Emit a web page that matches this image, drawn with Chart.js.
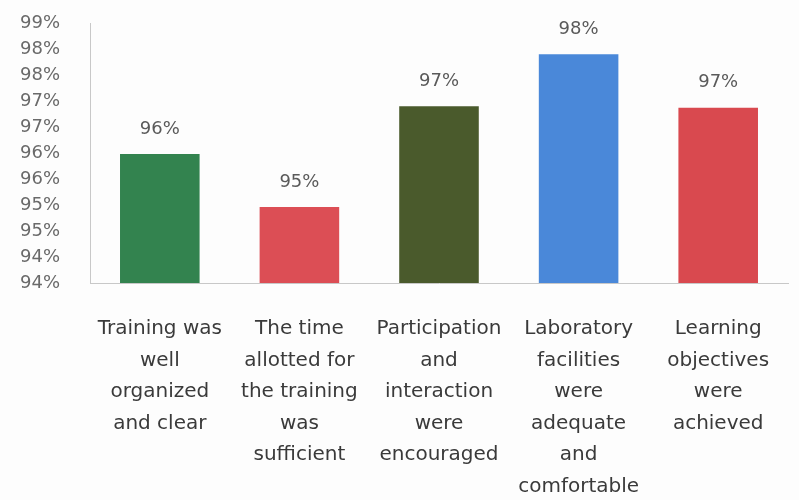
<!DOCTYPE html>
<html>
<head>
<meta charset="utf-8">
<script src="https://cdn.jsdelivr.net/npm/chart.js@4/dist/chart.umd.min.js"></script>
<style>
  html, body { margin: 0; padding: 0; background: #fdfdfd; }
  #wrap { width: 799px; height: 500px; position: relative; }
</style>
</head>
<body>
<div id="wrap"><canvas id="trainingChart"></canvas></div>
<script>
// categories, one entry per bar (lines as shown under the axis)
var categories = [
  ['Training was', 'well', 'organized', 'and clear'],
  ['The time', 'allotted for', 'the training', 'was', 'sufficient'],
  ['Participation', 'and', 'interaction', 'were', 'encouraged'],
  ['Laboratory', 'facilities', 'were', 'adequate', 'and', 'comfortable'],
  ['Learning', 'objectives', 'were', 'achieved']
];
var values = [95.98, 94.96, 96.9, 97.9, 96.87];
var barColors = ['#33834f', '#dc4e55', '#4a5a2c', '#4a88d9', '#d9494f'];
var valueLabels = ['96%', '95%', '97%', '98%', '97%'];
var tickLabels = ['94%', '94%', '95%', '95%', '96%', '96%', '97%', '97%', '98%', '98%', '99%'];

// draws the value text above each bar
var barValueLabels = {
  id: 'barValueLabels',
  afterDatasetsDraw: function(chart) {
    var ctx = chart.ctx;
    var meta = chart.getDatasetMeta(0);
    ctx.save();
    ctx.font = '18px "DejaVu Sans"';
    ctx.fillStyle = '#5a5a5a';
    ctx.textAlign = 'center';
    ctx.textBaseline = 'bottom';
    meta.data.forEach(function(bar, i) {
      ctx.fillText(valueLabels[i], bar.x, bar.y - 16);
    });
    ctx.restore();
  }
};

var ctx = document.getElementById('trainingChart').getContext('2d');
var trainingChart = new Chart(ctx, {
  type: 'bar',
  data: {
    labels: categories,
    datasets: [{
      data: values,
      backgroundColor: barColors,
      borderWidth: 0,
      barPercentage: 0.57,
      categoryPercentage: 1
    }]
  },
  options: {
    responsive: true,
    maintainAspectRatio: false,
    animation: false,
    layout: { padding: { top: 23, right: 11, left: 0, bottom: 0 } },
    plugins: {
      legend: { display: false },
      tooltip: { enabled: false }
    },
    scales: {
      y: {
        min: 93.5,
        max: 98.5,
        grid: { display: false },
        border: { color: '#c8c8c8', width: 1 },
        afterFit: function(scale) {
          scale.width = 90;
          scale.paddingTop = 0;
          scale.paddingBottom = 0;
        },
        ticks: {
          stepSize: 0.5,
          autoSkip: false,
          padding: 22,
          color: '#6a6a6a',
          font: { family: 'DejaVu Sans', size: 18 },
          callback: function(value, index) { return tickLabels[index]; }
        }
      },
      x: {
        grid: { display: false },
        border: { color: '#c8c8c8', width: 1 },
        afterFit: function(scale) { scale.height = 217; },
        ticks: {
          padding: 22,
          maxRotation: 0,
          autoSkip: false,
          color: '#3a3a3a',
          font: { family: 'DejaVu Sans', size: 20, lineHeight: 1.58 }
        }
      }
    }
  },
  plugins: [barValueLabels]
});
</script>
</body>
</html>
